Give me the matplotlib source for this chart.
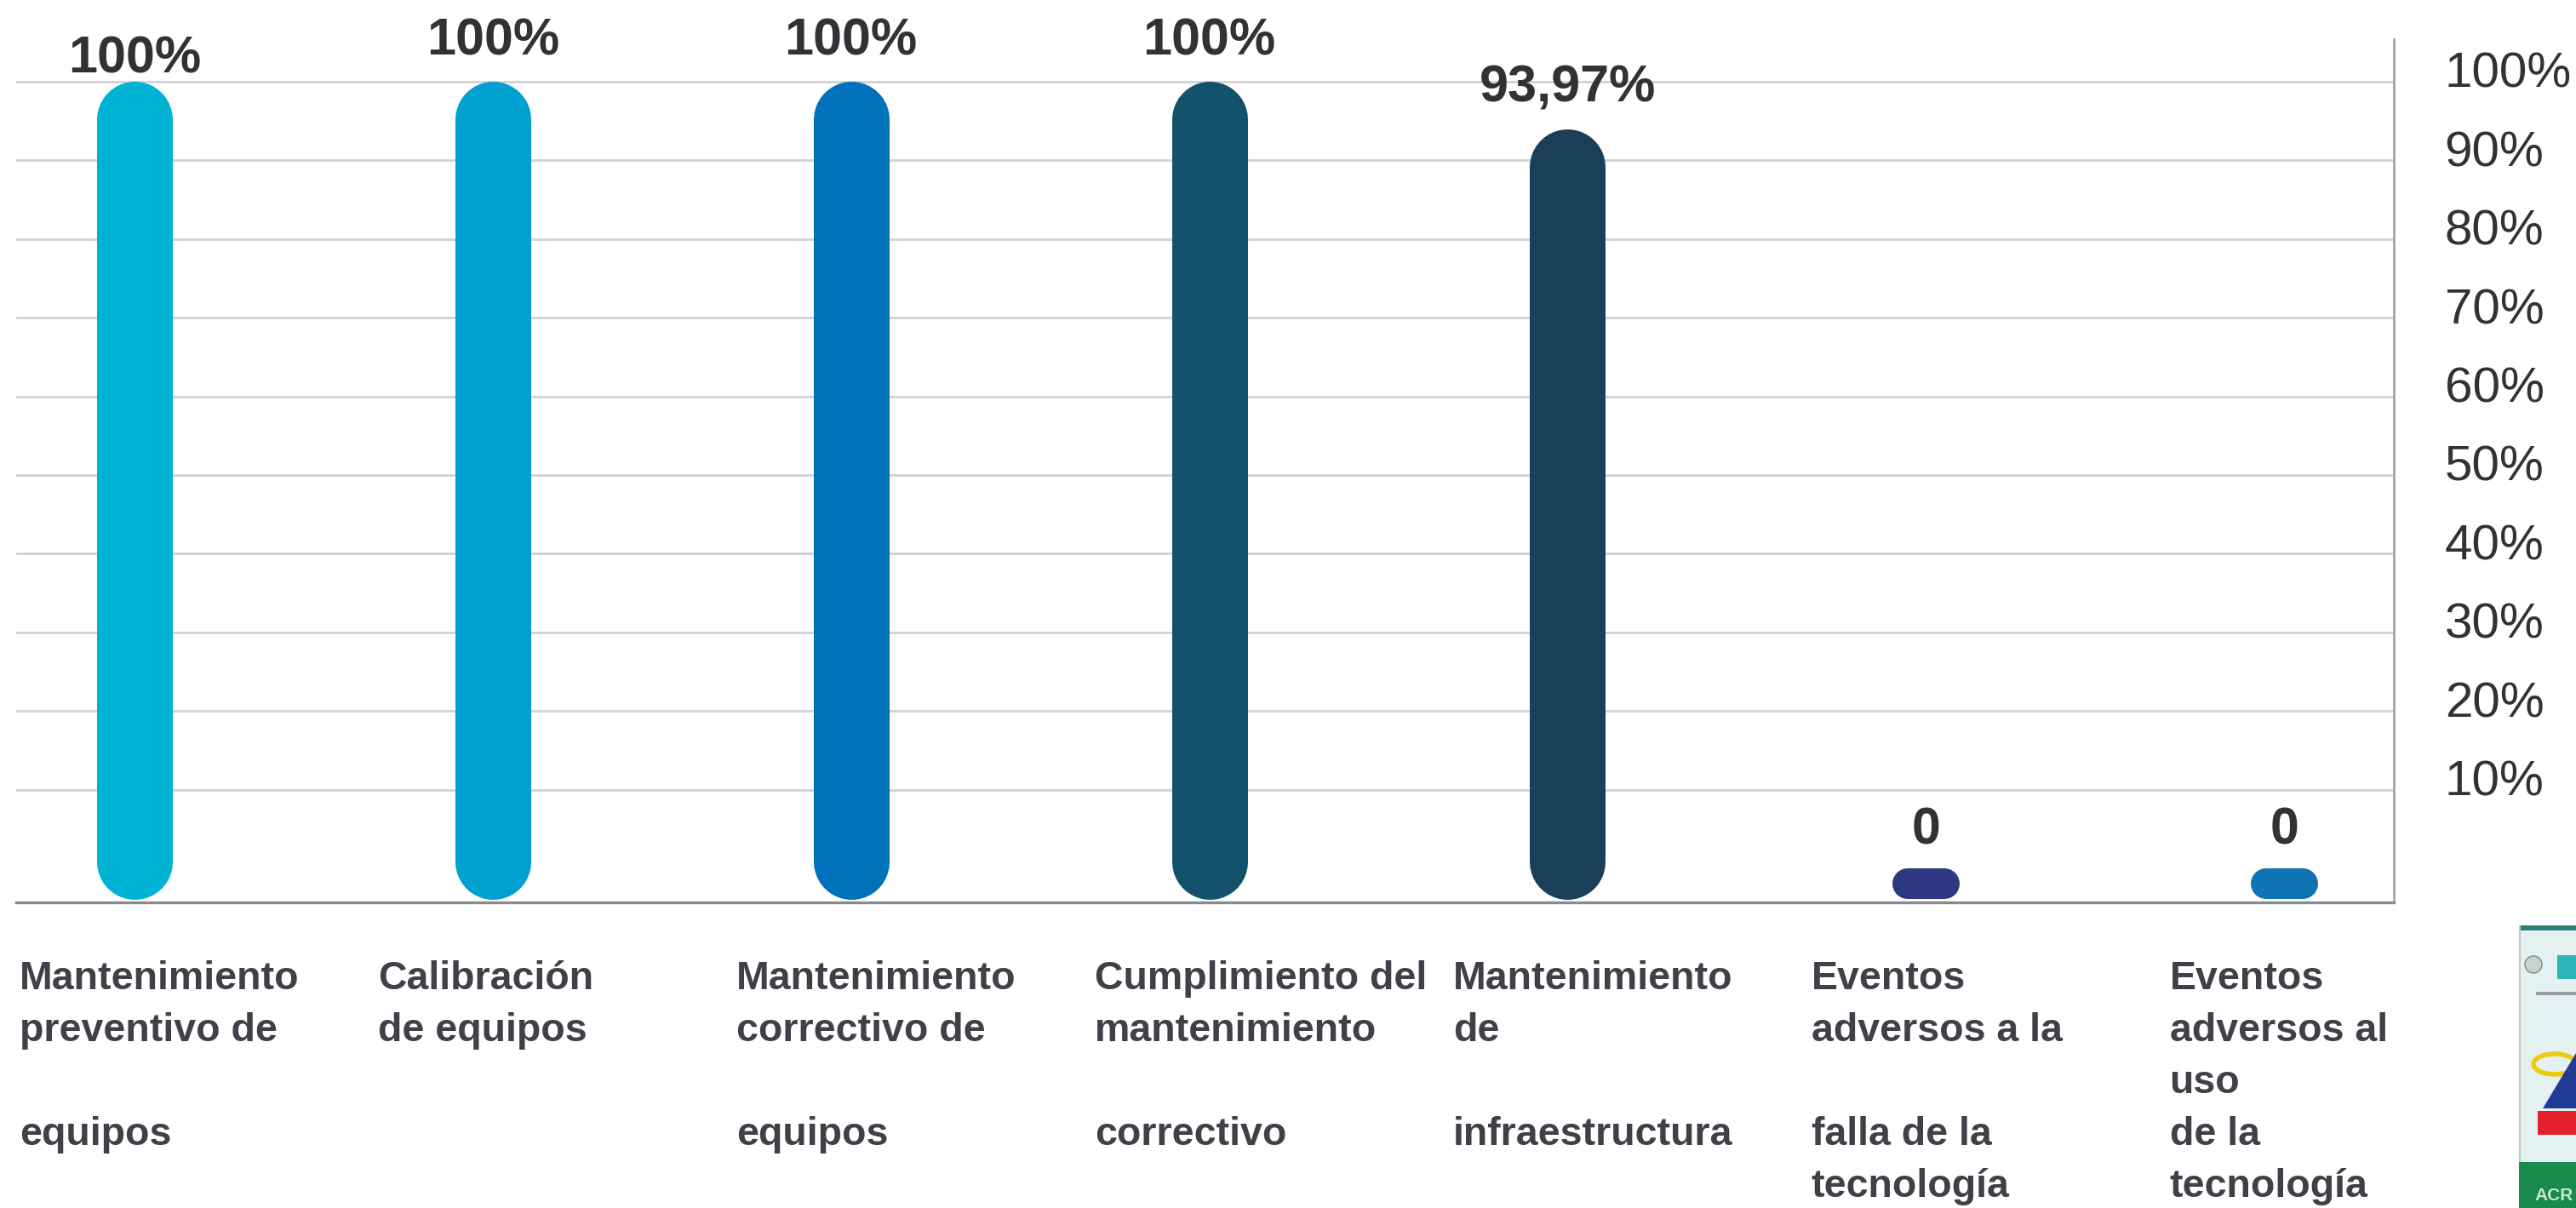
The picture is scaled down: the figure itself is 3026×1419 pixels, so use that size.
import numpy as np
import matplotlib
matplotlib.use("Agg")
import matplotlib.pyplot as plt
from matplotlib.patches import Rectangle, Circle, Ellipse, Polygon
from matplotlib.transforms import ScaledTranslation

plt.rcParams['font.family'] = ['Liberation Sans', 'DejaVu Sans']

# data
categories = [
    "Mantenimiento\npreventivo de\n\nequipos",
    "Calibración\nde equipos",
    "Mantenimiento\ncorrectivo de\n\nequipos",
    "Cumplimiento del\nmantenimiento\n\ncorrectivo",
    "Mantenimiento\nde\n\ninfraestructura",
    "Eventos\nadversos a la\n\nfalla de la\ntecnología",
    "Eventos\nadversos al\nuso\nde la\ntecnología",
]
values = [100, 100, 100, 100, 93.97, 0, 0]
bar_colors = ["#00B2D4", "#00A1CF", "#0071BB", "#13506C", "#1A3F57", "#2E3781", "#0E74B4"]
yticks = [10, 20, 30, 40, 50, 60, 70, 80, 90, 100]
ytick_labels = [f"{t}%" for t in yticks]

# layout / style
label_lift = [19, 34, 34, 34, 34, 32, 32]   # points above bar top
base = -3.9
bar_px = 89        # bar width in pixels
small_bar_px = 79  # width of the flat bars drawn for zero values
text_dark = "#333036"
cat_color = "#414048"

W, H, DPI = 3026, 1419, 100
fig = plt.figure(figsize=(W / DPI, H / DPI), dpi=DPI)
ax = fig.add_axes([19 / W, 1 - 1060 / H, (2812 - 19) / W, (1060 - 46) / H])

xlo, xhi, ylo, yhi = -0.33, 6.306, -4.33, 105.4
ax.set_xlim(xlo, xhi)
ax.set_ylim(ylo, yhi)

bbox = ax.get_window_extent()
px_x = bbox.width / (xhi - xlo)
px_y = bbox.height / (yhi - ylo)
pt = 72 / DPI

x = np.arange(len(values))
for i, (v, c) in enumerate(zip(values, bar_colors)):
    h_px = (v - base) * px_y
    if h_px > bar_px:
        # tall bar: vertical stroke with round caps
        r = bar_px / 2 / px_y
        ax.plot([x[i], x[i]], [base + r, v - r], color=c, lw=bar_px * pt,
                solid_capstyle='round', zorder=3)
    else:
        # flat bar: horizontal stroke with round caps
        half = (small_bar_px - h_px) / 2 / px_x
        yc = (base + v) / 2
        ax.plot([x[i] - half, x[i] + half], [yc, yc], color=c, lw=h_px * pt,
                solid_capstyle='round', zorder=3)
    lab = "0" if v == 0 else f"{v:g}%".replace('.', ',')
    ax.annotate(lab, (x[i], v), xytext=(0, label_lift[i]), textcoords='offset points',
                ha='center', va='center', fontsize=44, fontweight='bold',
                color=text_dark, annotation_clip=False)
    ax.annotate(categories[i], (x[i] - 0.32, 0), xycoords=('data', 'axes fraction'),
                xytext=(0, -49), textcoords='offset points', ha='left', va='top',
                fontsize=33.5, fontweight='bold', color=cat_color, linespacing=1.5,
                annotation_clip=False)

# axes styling
for s in ['left', 'top']:
    ax.spines[s].set_visible(False)
ax.spines['bottom'].set_color('#868B90')
ax.spines['bottom'].set_linewidth(2.4)
ax.spines['right'].set_color('#A0A4A8')
ax.spines['right'].set_linewidth(2)
ax.set_xticks([])
ax.yaxis.tick_right()
ax.set_yticks(yticks)
ax.set_yticklabels(ytick_labels)
ax.tick_params(axis='y', length=0, pad=43, labelsize=42, labelcolor=text_dark)
for t in ax.get_yticklabels():
    t.set_horizontalalignment('left')
    t.set_transform(t.get_transform() + ScaledTranslation(0, 14 / DPI, fig.dpi_scale_trans))
ax.yaxis.grid(True, color='#D2D2D2', linewidth=2, zorder=0)
ax.set_axisbelow(True)

# small accreditation logo at the bottom right (cut by the edge)
lx0, ly0 = 2959, 1087
lax = fig.add_axes([lx0 / W, 0, (W - lx0) / W, (H - ly0) / H])
lax.set_xlim(0, W - lx0)
lax.set_ylim(H - ly0, 0)
lax.axis('off')
lax.add_patch(Rectangle((0, 0), 67, 332, facecolor='#E4F1F1', edgecolor='none'))
lax.add_patch(Rectangle((0, 0), 67, 6, facecolor='#2E7F78', edgecolor='none'))
lax.add_patch(Rectangle((0, 0), 2, 332, facecolor='#B8CCCC', edgecolor='none'))
lax.add_patch(Circle((17, 46), 10, facecolor='#C9D3CC', edgecolor='#7C8A80', lw=1))
lax.add_patch(Rectangle((45, 35), 22, 28, facecolor='#2DB4B9', edgecolor='none'))
lax.add_patch(Rectangle((20, 78), 47, 4, facecolor='#9AA0A0', edgecolor='none'))
lax.add_patch(Ellipse((42, 163), 50, 24, facecolor='none', edgecolor='#F0CA10', lw=4))
lax.add_patch(Polygon([(67, 150), (67, 215), (28, 215)], facecolor='#223C95', edgecolor='none'))
lax.add_patch(Rectangle((22, 218), 45, 28, facecolor='#E4222B', edgecolor='none'))
lax.add_patch(Rectangle((0, 278), 67, 54, facecolor='#188A4B', edgecolor='none'))
lax.text(18, 318, "ACR", fontsize=15, fontweight='bold', color='#C8E6D2', va='center', ha='left')

fig.savefig("out.png", dpi=DPI)
